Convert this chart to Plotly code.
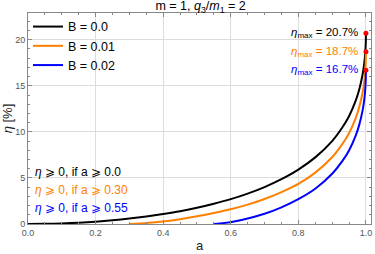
import plotly.graph_objects as go

# spin parameter samples
a_vals = [0, 0.05, 0.1, 0.15, 0.2, 0.25, 0.3, 0.35, 0.4, 0.45, 0.5, 0.55, 0.6, 0.65,
          0.7, 0.75, 0.8, 0.85, 0.9, 0.93, 0.95, 0.97, 0.98, 0.99, 0.995, 0.998, 0.9995, 1.0]

eta_B0 = [0, 0.02, 0.06, 0.14, 0.25, 0.40, 0.59, 0.81, 1.08, 1.39, 1.76, 2.2, 2.7, 3.30,
          4.01, 4.86, 5.9, 7.23, 9.0, 10.47, 11.7, 13.42, 14.58, 16.2, 17.42, 18.58, 19.62, 20.7]

a_B1 = [0.3, 0.35, 0.4, 0.45, 0.5, 0.55, 0.6, 0.65, 0.7, 0.75, 0.8, 0.85, 0.9, 0.93,
        0.95, 0.97, 0.98, 0.99, 0.995, 0.998, 0.9995, 1.0]
eta_B1 = [0, 0.11, 0.28, 0.52, 0.83, 1.2, 1.6, 2.1, 2.71, 3.46, 4.35, 5.58, 7.25, 8.67,
          9.85, 11.52, 12.66, 14.25, 15.45, 16.6, 17.63, 18.7]

a_B2 = [0.55, 0.6, 0.65, 0.7, 0.75, 0.8, 0.85, 0.9, 0.93, 0.95, 0.97, 0.98, 0.99,
        0.995, 0.998, 0.9995, 1.0]
eta_B2 = [0, 0.2, 0.6, 1.11, 1.81, 2.7, 3.83, 5.45, 6.82, 7.98, 9.62, 10.73, 12.3,
          13.47, 14.61, 15.63, 16.7]

series_names = ["B = 0.0", "B = 0.01", "B = 0.02"]
colors = ["#000000", "#FF8000", "#0000FF"]
eta_max = [20.7, 18.7, 16.7]
a_min = ["0.0", "0.30", "0.55"]
x_ticks = [0, 0.2, 0.4, 0.6, 0.8, 1.0]
y_ticks = [0, 5, 10, 15, 20]

FONT = "Liberation Sans, Arial, sans-serif"

fig = go.Figure()
for xs, ys, name, c in zip([a_vals, a_B1, a_B2], [eta_B0, eta_B1, eta_B2], series_names, colors):
    fig.add_trace(go.Scatter(x=xs, y=ys, mode="lines", name=name,
                             line=dict(color=c, width=2, shape="spline", smoothing=0.6)))

fig.add_trace(go.Scatter(x=[1.0, 1.0, 1.0], y=eta_max, mode="markers", showlegend=False,
                         marker=dict(color="#FF0000", size=5)))

for i, (c, em) in enumerate(zip(colors, eta_max)):
    fig.add_annotation(x=0.983, y=em, xref="x", yref="y", xanchor="right", yanchor="middle",
                       text=f"<i>η</i><sub>max</sub> = {em}%", showarrow=False,
                       font=dict(family=FONT, size=11.5, color=c))

for i, (c, am) in enumerate(zip(colors, a_min)):
    fig.add_annotation(x=0.015, y=[5.65, 3.65, 1.75][i], xref="x", yref="y", xanchor="left",
                       yanchor="middle", text=f"<i>η</i> ⩾ 0, if a ⩾ {am}", showarrow=False,
                       font=dict(family=FONT, size=12, color=c))

axis_common = dict(showline=True, linecolor="#888888", linewidth=1, mirror="ticks",
                   ticks="inside", ticklen=4, tickcolor="#888888",
                   showgrid=True, gridcolor="#dddddd", gridwidth=1, zeroline=False,
                   tickfont=dict(family=FONT, size=9, color="#555555"))

fig.update_xaxes(range=[0, 1.015], tickvals=x_ticks, ticktext=[f"{v:.1f}" for v in x_ticks],
                 minor=dict(ticks="inside", ticklen=2, tickcolor="#888888", dtick=0.05,
                            tick0=0, showgrid=False),
                 title=dict(text="a", font=dict(family=FONT, size=13, color="#222222"), standoff=4),
                 **axis_common)
fig.update_yaxes(range=[0, 22.9], tickvals=y_ticks,
                 minor=dict(ticks="inside", ticklen=2, tickcolor="#888888", dtick=1,
                            tick0=0, showgrid=False),
                 title=dict(text="<i>η</i> [%]", font=dict(family=FONT, size=13, color="#222222"),
                            standoff=2),
                 **axis_common)

fig.update_layout(
    width=375, height=254,
    margin=dict(l=28, r=3, t=13, b=28),
    plot_bgcolor="white", paper_bgcolor="white",
    title=dict(text="m = 1, <i>q</i><sub>3</sub>/<i>m</i><sub>1</sub> = 2", x=0.535, xanchor="center",
               y=0.995, yanchor="top", font=dict(family=FONT, size=12.5, color="#000000")),
    legend=dict(x=0.0, y=1.005, xanchor="left", yanchor="top", bgcolor="rgba(0,0,0,0)",
                font=dict(family=FONT, size=12.5, color="#000000"), itemwidth=30,
                tracegroupgap=0),
    showlegend=True,
)

fig.write_html("out.html", config={"displayModeBar": False},
               post_script="document.body.style.margin='0';")
